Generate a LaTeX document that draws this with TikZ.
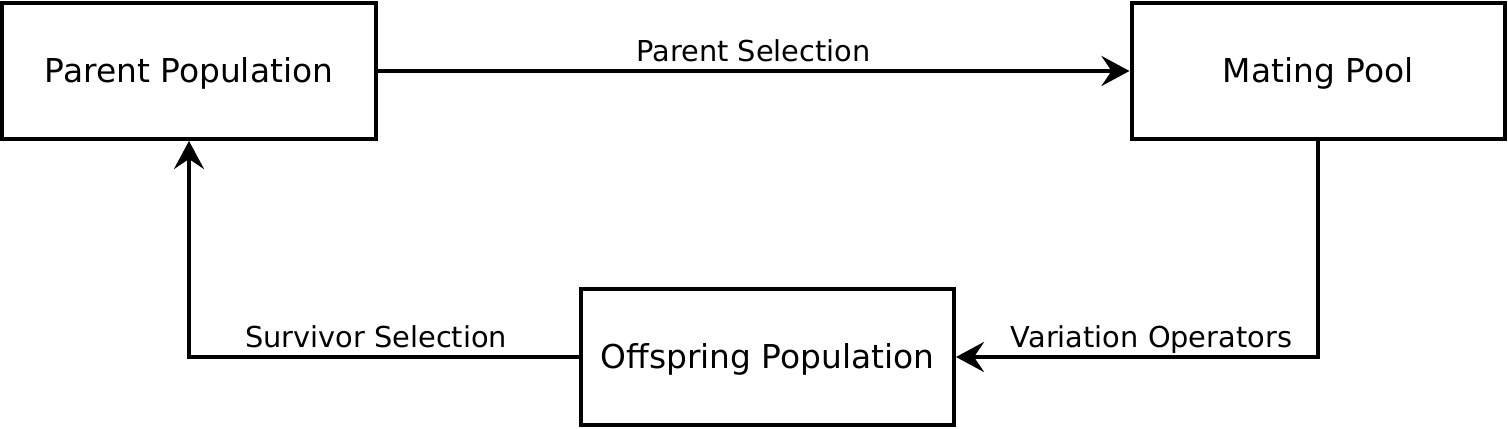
\documentclass[tikz,border=0pt]{standalone}
\usepackage{fontspec}
\setmainfont{DejaVu Sans}
\usetikzlibrary{positioning,arrows.meta}
\tikzset{
  pop/.style={draw, line width=0.08cm, minimum width=7.46cm, minimum height=2.72cm,
    inner sep=0pt, font=\fontsize{18.7}{22}\selectfont, text height=13.6pt, text depth=0pt},
  flow/.style={line width=0.08cm, -{Stealth[length=0.56cm, width=0.6cm, inset=0.2cm]}},
  op/.style={inner sep=0pt, font=\fontsize{16.4}{20}\selectfont, text depth=0pt}
}
\begin{document}
\begin{tikzpicture}
  \useasboundingbox (0,0) rectangle (30.16,-8.58);
  % Define nodes
  \node[pop] at (3.78,-1.42) (parent) {Parent Population};
  \node[pop, right=15.04cm of parent] (mating) {Mating Pool};
  \node[pop, below=2.92cm of parent, xshift=11.57cm] (offspring) {Offspring Population};
  % Connect nodes
  \draw[flow] (parent) -- node[op, above=0.14cm] {Parent Selection} (mating);
  \draw[flow] (mating) |- node[op, pos=0.73, above=0.15cm] {Variation Operators} (offspring);
  \draw[flow] (offspring) -| node[op, pos=0.26, above=0.14cm] {Survivor Selection} (parent);
\end{tikzpicture}
\end{document}
